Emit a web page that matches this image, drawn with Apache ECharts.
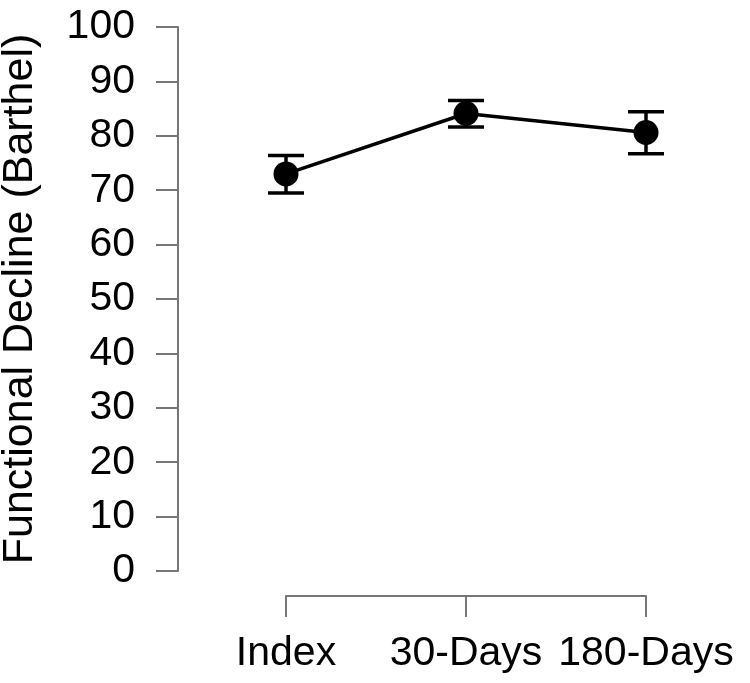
<!DOCTYPE html>
<html>
<head>
<meta charset="utf-8">
<script src="https://cdn.jsdelivr.net/npm/echarts@6/dist/echarts.min.js"></script>
<style>
  html, body { margin: 0; padding: 0; background: #fff; }
  #chart { width: 750px; height: 683px; }
</style>
</head>
<body>
<div id="chart"></div>
<script>
// values
const categories = ["Index", "30-Days", "180-Days"];
const means = [73.0, 84.1, 80.6];
const lower = [69.5, 81.6, 76.7];
const upper = [76.4, 86.5, 84.4];
const yTicks = [0, 10, 20, 30, 40, 50, 60, 70, 80, 90, 100];

const font = "Liberation Sans";
const axisGrey = "#777";

const chart = echarts.init(document.getElementById("chart"));

const option = {
  animation: false,
  grid: [
    { left: 178, right: 14, top: 27, bottom: 112, outerBoundsMode: "none", containLabel: false },
    // separate grid only for the R-style category axis below the plot
    { left: 286, right: 104, top: 595, height: 1, outerBoundsMode: "none", containLabel: false }
  ],
  xAxis: [
    { gridIndex: 0, type: "value", min: -0.6, max: 2.5, show: false },
    {
      gridIndex: 1,
      type: "category",
      data: categories,
      boundaryGap: false,
      axisLine: { lineStyle: { color: axisGrey, width: 2 } },
      axisTick: { length: 21, lineStyle: { color: axisGrey, width: 2 } },
      axisLabel: { margin: 37, color: "#000", fontFamily: font, fontSize: 41, interval: 0 }
    }
  ],
  yAxis: [
    {
      gridIndex: 0,
      type: "value",
      min: yTicks[0],
      max: yTicks[yTicks.length - 1],
      interval: 10,
      splitLine: { show: false },
      axisLine: { show: true, onZero: false, lineStyle: { color: axisGrey, width: 2 } },
      axisTick: { show: true, length: 22, lineStyle: { color: axisGrey, width: 2 } },
      axisLabel: { margin: 43, color: "#000", fontFamily: font, fontSize: 41 },
      name: "Functional Decline (Barthel)",
      nameLocation: "middle",
      nameGap: 136,
      nameTextStyle: { color: "#000", fontFamily: font, fontSize: 43 }
    },
    { gridIndex: 1, type: "value", show: false }
  ],
  series: [
    {
      // error bars
      type: "custom",
      xAxisIndex: 0,
      yAxisIndex: 0,
      data: categories.map((c, i) => [i, lower[i], upper[i]]),
      renderItem: function (params, api) {
        const lo = api.coord([api.value(0), api.value(1)]);
        const hi = api.coord([api.value(0), api.value(2)]);
        const half = 18;
        const style = { stroke: "#000", lineWidth: 3.5 };
        return {
          type: "group",
          children: [
            { type: "line", shape: { x1: lo[0], y1: lo[1], x2: hi[0], y2: hi[1] }, style: style },
            { type: "line", shape: { x1: hi[0] - half, y1: hi[1], x2: hi[0] + half, y2: hi[1] }, style: style },
            { type: "line", shape: { x1: lo[0] - half, y1: lo[1], x2: lo[0] + half, y2: lo[1] }, style: style }
          ]
        };
      },
      z: 2
    },
    {
      type: "line",
      xAxisIndex: 0,
      yAxisIndex: 0,
      data: categories.map((c, i) => [i, means[i]]),
      symbol: "circle",
      symbolSize: 25,
      itemStyle: { color: "#000" },
      lineStyle: { color: "#000", width: 3.5 },
      z: 3
    }
  ]
};

chart.setOption(option);
</script>
</body>
</html>
